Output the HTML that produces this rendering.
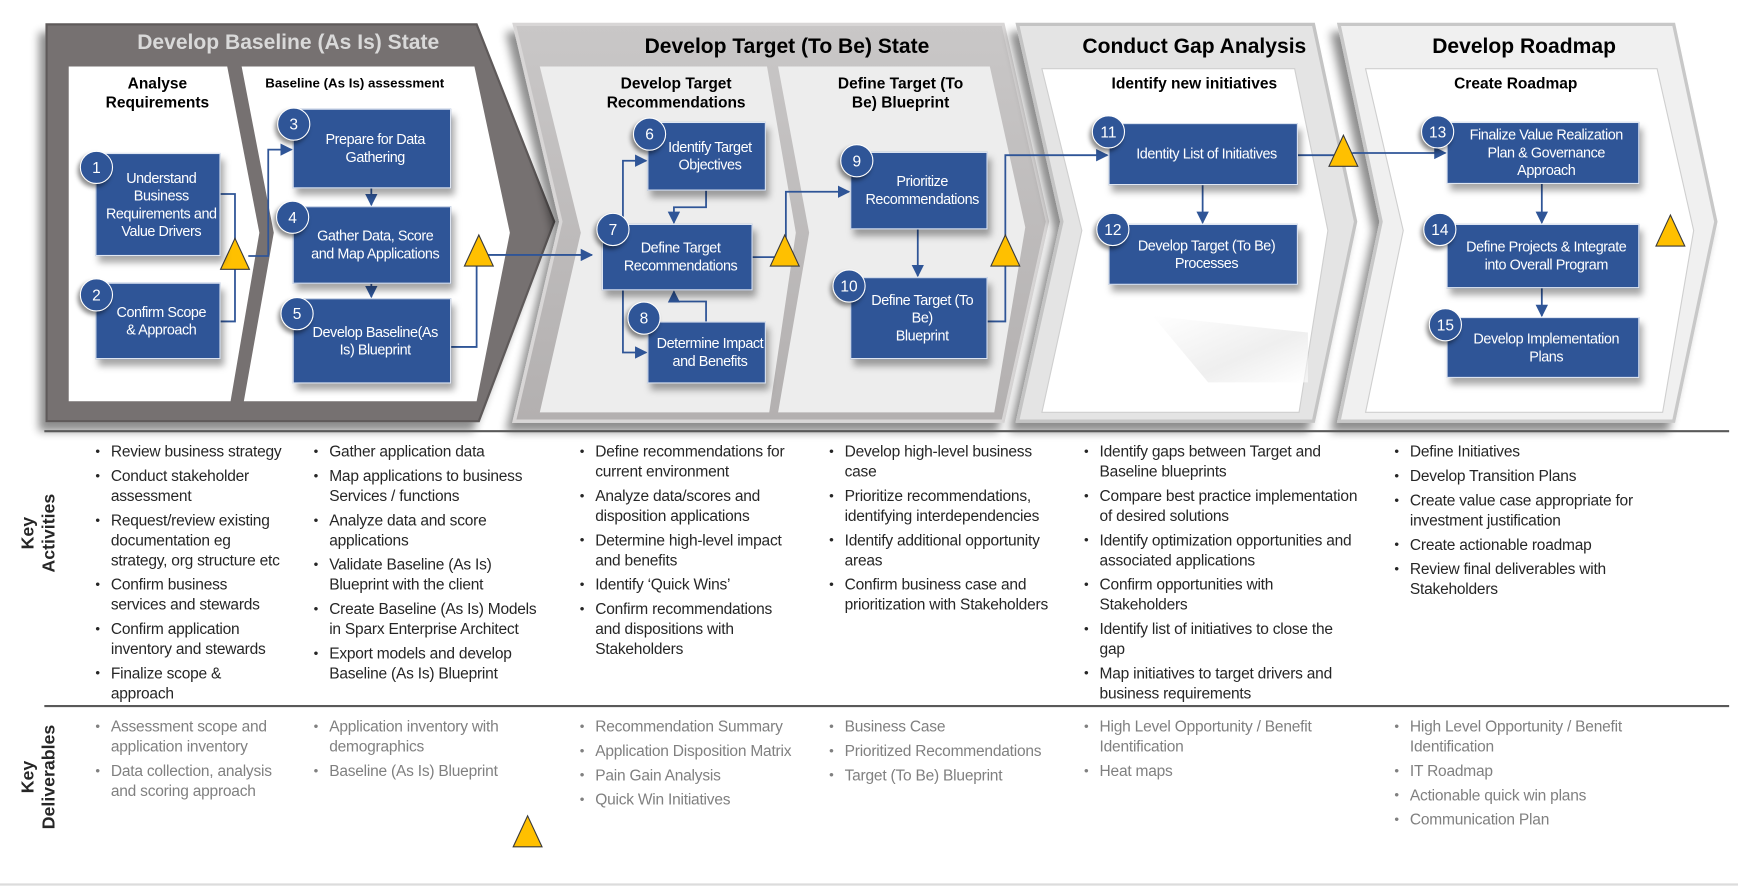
<!DOCTYPE html>
<html><head><meta charset="utf-8"><style>
html,body{margin:0;padding:0;background:#fff;}
#wrap{position:absolute;left:0;top:0;width:1568px;height:801px;transform:scale(1.10842);transform-origin:0 0;overflow:hidden;font-family:"Liberation Sans",Arial,sans-serif;}
.t{position:absolute;white-space:nowrap;text-align:center;}
.box{position:absolute;background:#2f5597;border:1px solid #dfe6f2;color:#fff;font-size:13px;letter-spacing:-0.4px;line-height:16px;display:flex;align-items:center;justify-content:center;text-align:center;box-shadow:3px 6px 6px rgba(0,0,0,0.35);box-sizing:border-box;padding-left:6px;}
.c{position:absolute;width:28px;height:28px;border-radius:50%;background:#2f5597;border:1.5px solid #fff;color:#fff;font-size:14px;line-height:28px;text-align:center;box-shadow:-2px 3px 4px rgba(0,0,0,0.45);}
.col{position:absolute;font-size:14px;line-height:18px;color:#262626;letter-spacing:-0.2px;}
.col div{position:relative;padding-left:14px;margin-bottom:4px;white-space:nowrap;}
.col div:before{content:"•";position:absolute;left:0;top:0;font-size:12px;}
.g{color:#808080;}
.lbl{position:absolute;font-weight:bold;font-size:16px;line-height:19px;text-align:center;transform:rotate(-90deg);white-space:nowrap;color:#262626;}
</style></head><body><div id="wrap">
<svg width="1568" height="801" style="position:absolute;left:0;top:0">
<defs>
<filter id="sh" x="-10%" y="-10%" width="130%" height="130%"><feGaussianBlur in="SourceAlpha" stdDeviation="4"/><feOffset dx="-6" dy="8"/><feComponentTransfer><feFuncA type="linear" slope="0.45"/></feComponentTransfer><feMerge><feMergeNode/><feMergeNode in="SourceGraphic"/></feMerge></filter>
<linearGradient id="g2" x1="0" y1="0" x2="0" y2="1"><stop offset="0" stop-color="#c9c7c7"/><stop offset="1" stop-color="#b3b0b0"/></linearGradient>
<linearGradient id="gs" x1="0" y1="0" x2="1" y2="1"><stop offset="0" stop-color="#fff"/><stop offset="0.6" stop-color="#e4e4e4"/><stop offset="1" stop-color="#fff"/></linearGradient>
<marker id="ar" viewBox="0 0 10 10" refX="9" refY="5" markerWidth="7" markerHeight="7" orient="auto"><path d="M0,0L10,5L0,10Z" fill="#2f5597"/></marker>
</defs>
<path d="M42,22 L430,22 L500,200 L432,380 L42,380 Z" fill="#767171" stroke="#5e5a5a" stroke-width="2" filter="url(#sh)"/>
<path d="M62,60 L205,60 L234,210 L208,362 L62,362 Z" fill="#fff"/>
<path d="M218,60 L428,60 L460,210 L430,362 L220,362 L247,210 Z" fill="#fff"/>
<path d="M464,22 L905,22 L945,200 L905,380 L464,380 L506,200 Z" fill="url(#g2)" stroke="#d8d6d6" stroke-width="3" filter="url(#sh)"/>
<path d="M487,60 L692,60 L718,210 L694,372 L487,372 L524,210 Z" fill="#ededed"/>
<path d="M702,60 L893,60 L925,205 L897,372 L702,372 L730,210 Z" fill="#ededed"/>
<path d="M918,22 L1185,22 L1223,200 L1185,380 L918,380 L958,200 Z" fill="#e4e4e4" stroke="#c4c4c4" stroke-width="3" filter="url(#sh)"/>
<path d="M940,62 L1168,62 L1198,208 L1172,372 L940,372 L976,208 Z" fill="#fff" stroke="#cfcfcf"/>
<path d="M1208,22 L1510,22 L1548,200 L1510,380 L1208,380 L1246,200 Z" fill="#f0f0f0" stroke="#c8c8c8" stroke-width="3" filter="url(#sh)"/>
<path d="M1232,62 L1495,62 L1528,208 L1500,372 L1232,372 L1266,208 Z" fill="#fff" stroke="#cfcfcf"/>
<path d="M1040,285 L1180,300 L1180,345 L1090,345 Z" fill="url(#gs)" opacity="0.6"/>
<line x1="40" y1="389" x2="1560" y2="389" stroke="#595959" stroke-width="2"/>
<line x1="40" y1="637" x2="1560" y2="637" stroke="#595959" stroke-width="2"/>
<line x1="0" y1="798" x2="1568" y2="798" stroke="#dcdcdc" stroke-width="2"/>
<g stroke="#2f5597" stroke-width="1.6" fill="none">
<polyline points="198,175 212,175 212,290 198,290"/>
<polyline points="224,231 242,231 242,135 263,135" marker-end="url(#ar)"/>
<line x1="335" y1="170" x2="335" y2="185" marker-end="url(#ar)"/>
<line x1="335" y1="256" x2="335" y2="268" marker-end="url(#ar)"/>
<polyline points="406,313 430,313 430,240"/>
<polyline points="440,230 534,230" marker-end="url(#ar)"/>
<polyline points="562,202 562,145 583,145" marker-end="url(#ar)"/>
<polyline points="637,172 637,187 608,187 608,201" marker-end="url(#ar)"/>
<polyline points="562,262 562,318 583,318" marker-end="url(#ar)"/>
<polyline points="637,290 637,272 608,272 608,263" marker-end="url(#ar)"/>
<polyline points="678,232 700,232"/>
<polyline points="709,215 709,173 766,173" marker-end="url(#ar)"/>
<line x1="828" y1="207" x2="828" y2="249" marker-end="url(#ar)"/>
<polyline points="890,290 907,290 907,240"/>
<polyline points="907,214 907,140 999,140" marker-end="url(#ar)"/>
<line x1="1085" y1="167" x2="1085" y2="201" marker-end="url(#ar)"/>
<polyline points="1170,140 1205,140"/>
<polyline points="1220,138 1304,138" marker-end="url(#ar)"/>
<line x1="1391" y1="166" x2="1391" y2="201" marker-end="url(#ar)"/>
<line x1="1391" y1="260" x2="1391" y2="285" marker-end="url(#ar)"/>
</g>
<g fill="#ffc000" stroke="#3a3a3a" stroke-width="1">
<path d="M212,215 L225,243 L199,243 Z"/>
<path d="M432,212 L445,240 L419,240 Z"/>
<path d="M708,212 L721,240 L695,240 Z"/>
<path d="M907,212 L920,240 L894,240 Z"/>
<path d="M1212,122 L1225,150 L1199,150 Z"/>
<path d="M1507,194 L1520,222 L1494,222 Z"/>
<path d="M476,736 L489,764 L463,764 Z"/>
</g>
</svg>

<div class="t" style="left:60px;top:28px;width:400px;font-size:19px;font-weight:bold;color:#d9d9d9;">Develop Baseline (As Is) State</div>
<div class="t" style="left:510px;top:32px;width:400px;font-size:19px;font-weight:bold;color:#000;">Develop Target (To Be) State</div>
<div class="t" style="left:960px;top:32px;width:235px;font-size:19px;font-weight:bold;color:#000;">Conduct Gap Analysis</div>
<div class="t" style="left:1250px;top:32px;width:250px;font-size:19px;font-weight:bold;color:#000;">Develop Roadmap</div>

<div class="t" style="left:62px;top:67px;width:160px;font-size:14px;font-weight:bold;line-height:17px;">Analyse<br>Requirements</div>
<div class="t" style="left:220px;top:68px;width:200px;font-size:12px;font-weight:bold;">Baseline (As Is) assessment</div>
<div class="t" style="left:510px;top:67px;width:200px;font-size:14px;font-weight:bold;line-height:17px;">Develop Target<br>Recommendations</div>
<div class="t" style="left:720px;top:67px;width:185px;font-size:14px;font-weight:bold;line-height:17px;">Define Target (To<br>Be) Blueprint</div>
<div class="t" style="left:970px;top:67px;width:215px;font-size:14px;font-weight:bold;">Identify new initiatives</div>
<div class="t" style="left:1260px;top:67px;width:215px;font-size:14px;font-weight:bold;">Create Roadmap</div>

<div class="box" style="left:86px;top:138px;width:113px;height:93px;">Understand<br>Business<br>Requirements and<br>Value Drivers</div>
<div class="box" style="left:86px;top:255px;width:113px;height:69px;">Confirm Scope<br>&amp; Approach</div>
<div class="box" style="left:264px;top:98px;width:143px;height:72px;">Prepare for Data<br>Gathering</div>
<div class="box" style="left:264px;top:186px;width:143px;height:70px;">Gather Data, Score<br>and Map Applications</div>
<div class="box" style="left:264px;top:269px;width:143px;height:77px;">Develop Baseline(As<br>Is) Blueprint</div>
<div class="box" style="left:584px;top:110px;width:107px;height:62px;">Identify Target<br>Objectives</div>
<div class="box" style="left:543px;top:202px;width:136px;height:60px;">Define Target<br>Recommendations</div>
<div class="box" style="left:584px;top:290px;width:107px;height:56px;">Determine Impact<br>and Benefits</div>
<div class="box" style="left:767px;top:137px;width:124px;height:70px;">Prioritize<br>Recommendations</div>
<div class="box" style="left:767px;top:250px;width:124px;height:74px;">Define Target (To<br>Be)<br>Blueprint</div>
<div class="box" style="left:1000px;top:111px;width:171px;height:56px;">Identity List of Initiatives</div>
<div class="box" style="left:1000px;top:202px;width:171px;height:55px;">Develop Target (To Be)<br>Processes</div>
<div class="box" style="left:1305px;top:110px;width:174px;height:56px;">Finalize Value Realization<br>Plan &amp; Governance<br>Approach</div>
<div class="box" style="left:1305px;top:202px;width:174px;height:58px;">Define Projects &amp; Integrate<br>into Overall Program</div>
<div class="box" style="left:1305px;top:286px;width:174px;height:55px;">Develop Implementation<br>Plans</div>

<div class="c" style="left:72px;top:136px;">1</div>
<div class="c" style="left:72px;top:251px;">2</div>
<div class="c" style="left:250px;top:97px;">3</div>
<div class="c" style="left:249px;top:181px;">4</div>
<div class="c" style="left:253px;top:268px;">5</div>
<div class="c" style="left:571px;top:106px;">6</div>
<div class="c" style="left:538px;top:192px;">7</div>
<div class="c" style="left:566px;top:272px;">8</div>
<div class="c" style="left:758px;top:130px;">9</div>
<div class="c" style="left:751px;top:243px;">10</div>
<div class="c" style="left:985px;top:104px;">11</div>
<div class="c" style="left:989px;top:192px;">12</div>
<div class="c" style="left:1282px;top:104px;">13</div>
<div class="c" style="left:1284px;top:192px;">14</div>
<div class="c" style="left:1289px;top:278px;">15</div>

<div class="lbl" style="left:-15px;top:462px;width:100px;">Key<br>Activities</div>
<div class="lbl" style="left:-15px;top:682px;width:100px;">Key<br>Deliverables</div>

<div class="col" style="left:86px;top:398px;">
<div>Review business strategy</div>
<div>Conduct stakeholder<br>assessment</div>
<div>Request/review existing<br>documentation eg<br>strategy, org structure etc</div>
<div>Confirm business<br>services and stewards</div>
<div>Confirm application<br>inventory and stewards</div>
<div>Finalize scope &amp;<br>approach</div>
</div>
<div class="col" style="left:283px;top:398px;">
<div>Gather application data</div>
<div>Map applications to business<br>Services / functions</div>
<div>Analyze data and score<br>applications</div>
<div>Validate Baseline (As Is)<br>Blueprint with the client</div>
<div>Create Baseline (As Is) Models<br>in Sparx Enterprise Architect</div>
<div>Export models and develop<br>Baseline (As Is) Blueprint</div>
</div>
<div class="col" style="left:523px;top:398px;">
<div>Define recommendations for<br>current environment</div>
<div>Analyze data/scores and<br>disposition applications</div>
<div>Determine high-level impact<br>and benefits</div>
<div>Identify ‘Quick Wins’</div>
<div>Confirm recommendations<br>and dispositions with<br>Stakeholders</div>
</div>
<div class="col" style="left:748px;top:398px;">
<div>Develop high-level business<br>case</div>
<div>Prioritize recommendations,<br>identifying interdependencies</div>
<div>Identify additional opportunity<br>areas</div>
<div>Confirm business case and<br>prioritization with Stakeholders</div>
</div>
<div class="col" style="left:978px;top:398px;">
<div>Identify gaps between Target and<br>Baseline blueprints</div>
<div>Compare best practice implementation<br>of desired solutions</div>
<div>Identify optimization opportunities and<br>associated applications</div>
<div>Confirm opportunities with<br>Stakeholders</div>
<div>Identify list of initiatives to close the<br>gap</div>
<div>Map initiatives to target drivers and<br>business requirements</div>
</div>
<div class="col" style="left:1258px;top:398px;">
<div>Define Initiatives</div>
<div>Develop Transition Plans</div>
<div>Create value case appropriate for<br>investment justification</div>
<div>Create actionable roadmap</div>
<div>Review final deliverables with<br>Stakeholders</div>
</div>

<div class="col g" style="left:86px;top:646px;">
<div>Assessment scope and<br>application inventory</div>
<div>Data collection, analysis<br>and scoring approach</div>
</div>
<div class="col g" style="left:283px;top:646px;">
<div>Application inventory with<br>demographics</div>
<div>Baseline (As Is) Blueprint</div>
</div>
<div class="col g" style="left:523px;top:646px;">
<div>Recommendation Summary</div>
<div>Application Disposition Matrix</div>
<div>Pain Gain Analysis</div>
<div>Quick Win Initiatives</div>
</div>
<div class="col g" style="left:748px;top:646px;">
<div>Business Case</div>
<div>Prioritized Recommendations</div>
<div>Target (To Be) Blueprint</div>
</div>
<div class="col g" style="left:978px;top:646px;">
<div>High Level Opportunity / Benefit<br>Identification</div>
<div>Heat maps</div>
</div>
<div class="col g" style="left:1258px;top:646px;">
<div>High Level Opportunity / Benefit<br>Identification</div>
<div>IT Roadmap</div>
<div>Actionable quick win plans</div>
<div>Communication Plan</div>
</div>
</div></body></html>
